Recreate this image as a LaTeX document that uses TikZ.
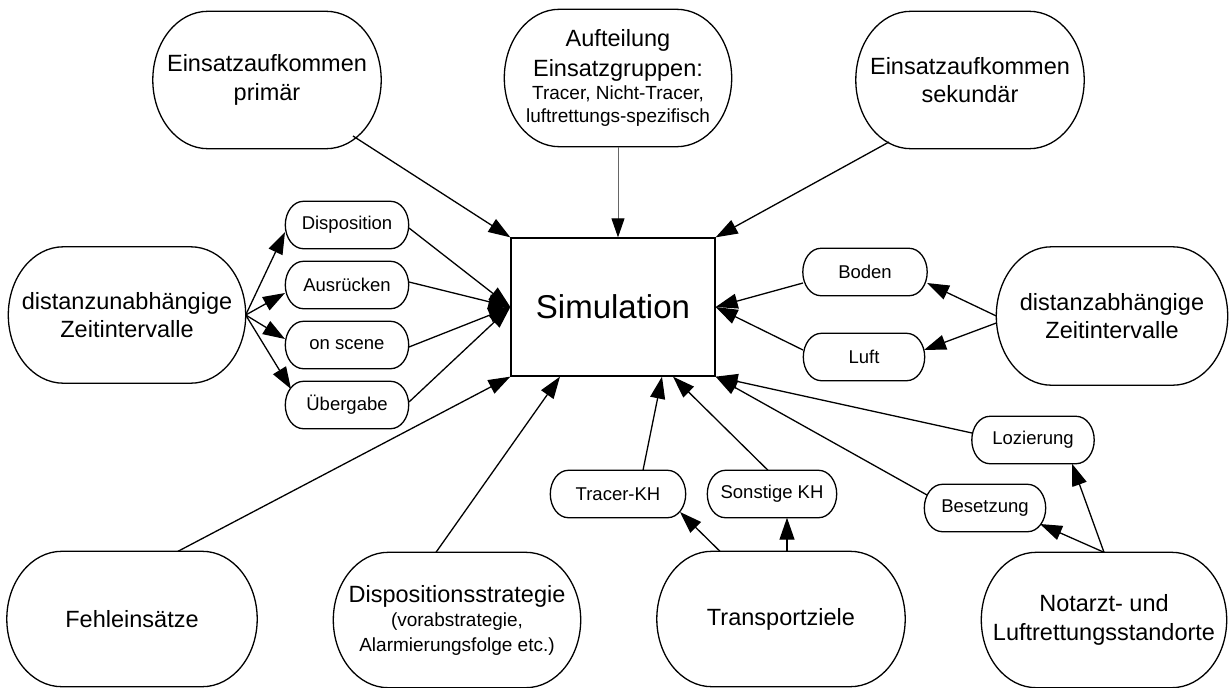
\documentclass[tikz,border=0pt]{standalone}
\usepackage{fontspec}
\setmainfont{Liberation Sans}
\usetikzlibrary{arrows.meta,calc}
\newcommand\bigf{\fontsize{23.5}{28.5}\selectfont}
\newcommand\smf{\fontsize{19}{23}\selectfont}
\newcommand\nodef{\fontsize{18.5}{22}\selectfont}
% outline with elliptical ends: #1 node name, #2 horizontal radius (pt)
\newcommand\stad[2]{%
 \draw[outl] let \p1=(#1.north east), \p2=(#1.south west), \p3=(#1.east) in
 ({\x2+#2pt},\y1) -- ({\x1-#2pt},\y1)
 .. controls ({\x1-0.4477*#2pt},\y1) and (\x1,{\y3+0.5523*(\y1-\y3)}) .. (\x1,\y3)
 .. controls (\x1,{\y3-0.5523*(\y3-\y2)}) and ({\x1-0.4477*#2pt},\y2) .. ({\x1-#2pt},\y2)
 -- ({\x2+#2pt},\y2)
 .. controls ({\x2+0.4477*#2pt},\y2) and (\x2,{\y3-0.5523*(\y3-\y2)}) .. (\x2,\y3)
 .. controls (\x2,{\y3+0.5523*(\y1-\y3)}) and ({\x2+0.4477*#2pt},\y1) .. ({\x2+#2pt},\y1) -- cycle;}
\tikzset{
 outl/.style={line width=1.3pt, line join=round},
 bn/.style 2 args={rectangle, minimum width=#1pt, minimum height=#2pt, inner sep=0pt, align=center, font=\bigf},
 sn/.style={rectangle, minimum width=#1pt, minimum height=47pt, inner sep=0pt, align=center, font=\nodef},
 arr/.style={line width=1.3pt, -{Triangle[length=22pt,width=15pt]}},
 arrg/.style={line width=0.9pt, draw=black!60, -{Triangle[length=19pt,width=13pt,color=black]}},
}
\begin{document}
\begin{tikzpicture}[x=1pt,y=-1pt]
\useasboundingbox (0,0) rectangle (1229,688);
% big nodes
\node[bn={228}{137}] (prim) at (267,80) {Einsatzaufkommen\\primär};
\node[bn={227}{137}] (auft) at (618,78) {Aufteilung\\[1.5pt]Einsatzgruppen:\\[-5pt]\smf Tracer, Nicht-Tracer,\\[-5.5pt]\smf luftrettungs-spezifisch};
\node[bn={228}{137}] (sek) at (970,80) {Einsatzaufkommen\\sekundär};
\node[bn={237}{136}] (dzu) at (127,315) {distanzunabhängige\\Zeitintervalle};
\node[bn={231}{138}] (dza) at (1112,316) {distanzabhängige\\Zeitintervalle};
\node[bn={250}{135}] (fehl) at (132,619) {Fehleinsätze};
\node[bn={247}{135}] (dstr) at (457,620) {Dispositionsstrategie\\[-4pt]\smf(vorabstrategie,\\[-4pt]\smf Alarmierungsfolge etc.)};
\node[bn={248}{135}] (trans) at (781,619) {Transportziele};
\node[bn={245}{135}] (nota) at (1104,620) {Notarzt- und\\Luftrettungsstandorte};
% centre box
\node[draw, line width=1.3pt, minimum width=204pt, minimum height=138pt, inner sep=0pt, font=\fontsize{33}{40}\selectfont] (sim) at (613,307) {Simulation};
% small nodes
\node[sn=123] (disp) at (347,225) {Disposition};
\node[sn=123] (ausr) at (347,285) {Ausrücken};
\node[sn=123] (onsc) at (347,345) {on scene};
\node[sn=123] (ueb) at (347,405) {Übergabe};
\node[sn=124] (boden) at (865,272) {Boden};
\node[sn=121] (luft) at (864,357) {Luft};
\node[sn=135] (tkh) at (618,494) {Tracer-KH};
\node[sn=129] (skh) at (772,494) {Sonstige KH};
\node[sn=122] (loz) at (1033,440) {Lozierung};
\node[sn=121] (bes) at (985,508) {Besetzung};
% outlines (drawn at the node borders, fixed geometry)
\foreach \nd in {prim,auft,sek,dzu,dza,fehl,dstr,trans,nota} {\stad{\nd}{55}}
\foreach \nd in {disp,ausr,onsc,ueb,boden,luft,tkh,skh,loz,bes} {\stad{\nd}{18}}
% connectors
\draw[arr] ([shift={(86,56)}]prim.center) -- (sim.north west);
\draw[arrg] (auft.south) -- (auft.south |- sim.north);
\draw[arr] ([shift={(-81,62)}]sek.center) -- (sim.north east);
\foreach \nd/\dx/\dy in {disp/-62/7, ausr/-62/8, onsc/-62/-6, ueb/-56/-16}
  \draw[arr] (dzu.east) -- ([shift={(\dx,\dy)}]\nd.center);
\foreach \nd/\dy in {disp/3, ausr/-3, onsc/2, ueb/-3}
  \draw[arr] ([shift={(62,\dy)}]\nd.center) -- (sim.west);
\draw[arr] ([shift={(46,0)}]fehl.north) -- (sim.south west);
\draw[arr] ([shift={(-21,0)}]dstr.north) -- ([shift={(-53,0)}]sim.south);
\draw[arr] ([shift={(25,0)}]tkh.north) -- ([shift={(49,0)}]sim.south);
\draw[arr] ([shift={(-4,0)}]skh.north) -- ([shift={(60,0)}]sim.south);
\draw[arr] ([shift={(-61,0)}]trans.north) -- ([shift={(62,18)}]tkh.center);
\draw[arr] ([shift={(6,0)}]trans.north) -- ([shift={(6,0)}]trans.north |- skh.south);
\draw[arr] ([shift={(-61,-7)}]loz.center) -- (sim.south east);
\draw[arr] ([shift={(-58,-13)}]bes.center) -- (sim.south east);
\draw[arr] (nota.north) -- ([shift={(39,0)}]loz.south);
\draw[arr] (nota.north) -- ([shift={(55,16)}]bes.center);
\draw[arr] (dza.west) -- ([shift={(62,11)}]boden.center);
\draw[arr] ([shift={(0,7)}]dza.west) -- ([shift={(60,-7)}]luft.center);
\draw[arr] ([shift={(-62,11)}]boden.center) -- (sim.east);
\draw[arr] ([shift={(-61,-7)}]luft.center) -- (sim.east);
\end{tikzpicture}
\end{document}
